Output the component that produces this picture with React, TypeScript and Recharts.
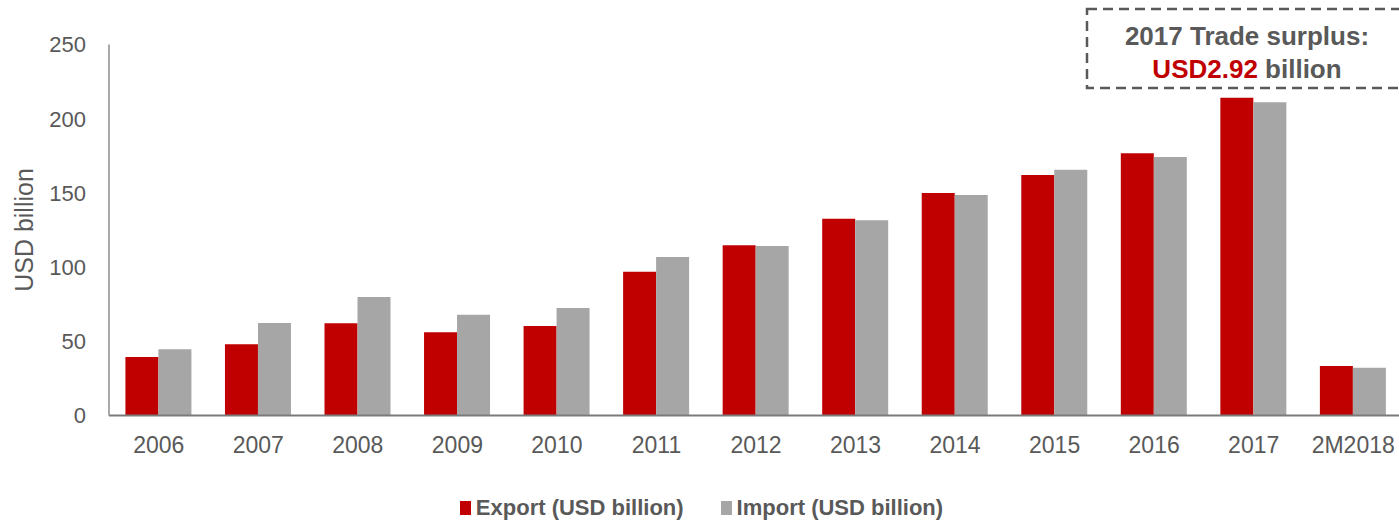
import { BarChart, Bar, XAxis, YAxis, Legend } from "recharts";

const years = [
  "2006", "2007", "2008", "2009", "2010", "2011", "2012",
  "2013", "2014", "2015", "2016", "2017", "2M2018",
];
const exportValues = [39.4, 48.0, 62.1, 56.1, 60.3, 96.9, 114.7, 132.6, 149.9, 162.1, 176.7, 214.2, 33.4];
const importValues = [44.6, 62.3, 79.9, 67.9, 72.4, 106.8, 114.2, 131.5, 148.6, 165.6, 174.2, 211.1, 32.2];
const yTicks = [0, 50, 100, 150, 200, 250];

const data = years.map((year, i) => ({
  year,
  export: exportValues[i],
  import: importValues[i],
}));

const RED = "#C00000";
const GREY = "#A6A6A6";
const TEXT = "#595959";
const FONT = "'Liberation Sans', Arial, Helvetica, sans-serif";

const LegendContent = () => {
  const items = [
    { label: "Export (USD billion)", color: RED },
    { label: "Import (USD billion)", color: GREY },
  ];
  return (
    <div
      style={{
        display: "flex",
        justifyContent: "center",
        alignItems: "center",
        height: 28,
        marginTop: 12,
        fontFamily: FONT,
        fontWeight: "bold",
        fontSize: 22,
        color: TEXT,
      }}
    >
      {items.map((it, i) => (
        <div
          key={it.label}
          style={{ display: "flex", alignItems: "center", marginLeft: i ? 37 : 0 }}
        >
          <span
            style={{
              display: "inline-block",
              width: 11,
              height: 14,
              backgroundColor: it.color,
              marginRight: 5,
            }}
          />
          <span>{it.label}</span>
        </div>
      ))}
    </div>
  );
};

export default function App() {
  return (
    <div
      style={{
        position: "absolute",
        left: 0,
        top: 0,
        width: 1399,
        height: 522,
        overflow: "hidden",
        background: "white",
      }}
    >
      <BarChart
        width={1403}
        height={522}
        data={data}
        margin={{ top: 44.5, right: 0, left: 0, bottom: 0 }}
        barCategoryGap="16.5%"
        barGap={0}
        style={{ fontFamily: FONT }}
      >
        <XAxis
          dataKey="year"
          height={66.5}
          axisLine={{ stroke: "#7a7a7a", strokeWidth: 2 }}
          tickLine={false}
          tickSize={0}
          tickMargin={21.5}
          tick={{ fill: TEXT, fontSize: 23 }}
          interval={0}
        />
        <YAxis
          width={109}
          domain={[0, 250]}
          ticks={yTicks}
          axisLine={{ stroke: "#8c8c8c", strokeWidth: 1.5 }}
          tickLine={false}
          tickSize={0}
          tickMargin={23}
          tick={{ fill: TEXT, fontSize: 22 }}
          label={{
            value: "USD billion",
            angle: -90,
            position: "insideLeft",
            offset: 24,
            style: { textAnchor: "middle", fill: TEXT, fontSize: 25 },
          }}
        />
        <Legend
          verticalAlign="bottom"
          wrapperStyle={{ height: 40 }}
          content={<LegendContent />}
        />
        <Bar dataKey="export" name="Export (USD billion)" fill={RED} isAnimationActive={false} />
        <Bar dataKey="import" name="Import (USD billion)" fill={GREY} isAnimationActive={false} />
      </BarChart>
      <svg
        width={1399}
        height={522}
        style={{ position: "absolute", left: 0, top: 0, pointerEvents: "none" }}
      >
        <rect
          x={1087}
          y={9}
          width={340}
          height={79}
          fill="none"
          stroke={TEXT}
          strokeWidth={2.5}
          strokeDasharray="10 6"
        />
        <text
          x={1247}
          y={45}
          textAnchor="middle"
          fontFamily={FONT}
          fontWeight="bold"
          fontSize={26}
          fill={TEXT}
        >
          2017 Trade surplus:
        </text>
        <text
          x={1247}
          y={78}
          textAnchor="middle"
          fontFamily={FONT}
          fontWeight="bold"
          fontSize={26}
          fill={TEXT}
        >
          <tspan fill={RED}>USD2.92</tspan>
          <tspan> billion</tspan>
        </text>
      </svg>
    </div>
  );
}
